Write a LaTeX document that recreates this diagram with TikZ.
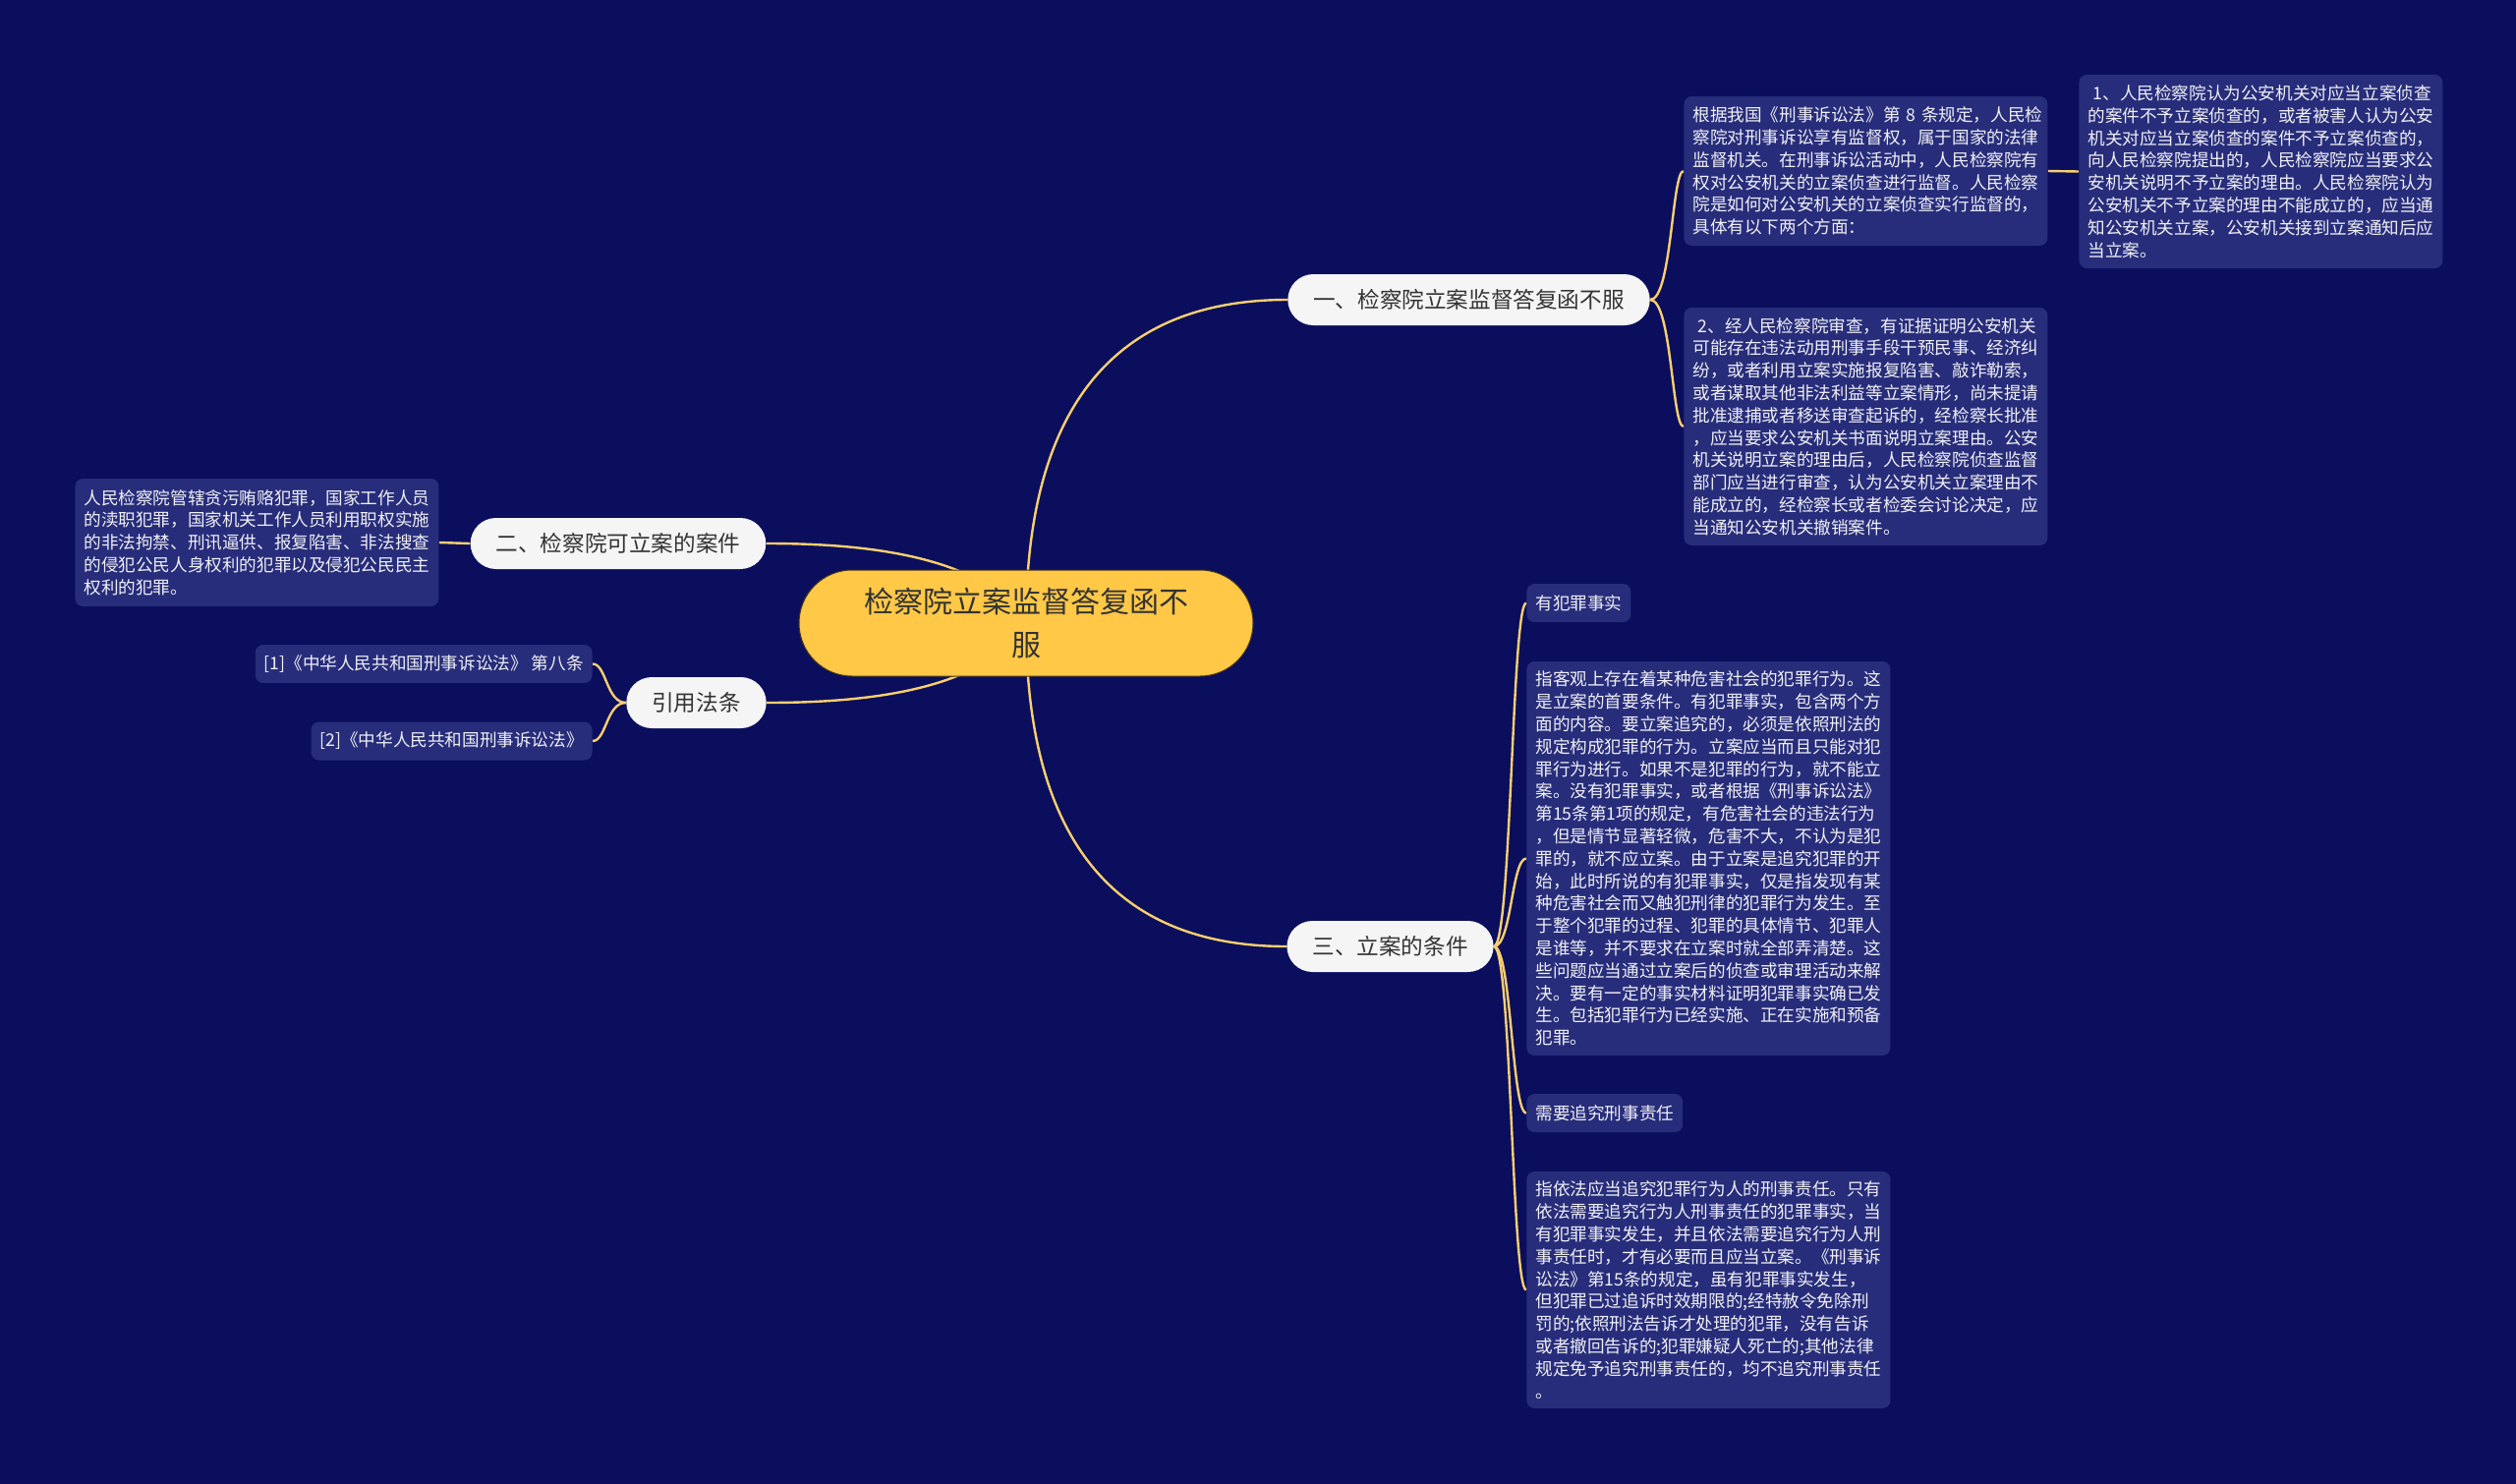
\documentclass[tikz,border=0pt]{standalone}
\usepackage{fontspec}
\setmainfont{Noto Sans CJK SC}
\usetikzlibrary{backgrounds}
\definecolor{bgcol}{RGB}{10,14,92}
\definecolor{leaffill}{RGB}{39,45,122}
\definecolor{leaftext}{RGB}{240,240,245}
\definecolor{mainfill}{RGB}{245,245,245}
\definecolor{maintext}{RGB}{51,51,51}
\definecolor{rootfill}{RGB}{255,200,71}
\definecolor{rootedge}{RGB}{70,55,25}
\definecolor{linecol}{RGB}{249,207,110}
\tikzset{
  leafbox/.style={fill=leaffill, text=leaftext, rounded corners=4pt, inner xsep=4.5pt, inner ysep=2pt,
    font=\fontsize{8.8pt}{11.4pt}\selectfont},
  longleaf/.style={leafbox, text width=176pt, align=left},
  mainbox/.style={fill=mainfill, text=maintext, rounded corners=13pt, minimum height=26pt,
    inner xsep=13pt, inner ysep=0pt, font=\fontsize{11.3pt}{14pt}\selectfont},
  rootbox/.style={fill=rootfill, draw=rootedge, line width=0.5pt, text=maintext, rounded corners=27pt,
    minimum height=54pt, text width=166pt, inner xsep=32.5pt, align=center,
    font=\fontsize{15pt}{22pt}\selectfont},
  conn/.style={draw=linecol, line width=1.2pt}
}
\begin{document}
\begin{tikzpicture}[x=0.5pt,y=-0.5pt]
\useasboundingbox (0,0) rectangle (2560,1510);

% root and main branches
\node[rootbox] (root) at (1044,634) {检察院立案监督答复函不\\服};
\node[mainbox] (n1) at (1494.5,305) {一、检察院立案监督答复函不服};
\node[mainbox] (n2) at (629,553) {二、检察院可立案的案件};
\node[mainbox] (n4) at (708.5,715) {引用法条};
\node[mainbox] (n3) at (1414.5,963) {三、立案的条件};

% branch 1 leaves
\node[longleaf, anchor=west, minimum height=76pt] (la) at (1713,174) {\mbox{根据我国《刑事诉讼法》第 8 条规定，人民检}\\
察院对刑事诉讼享有监督权，属于国家的法律\\
监督机关。在刑事诉讼活动中，人民检察院有\\
权对公安机关的立案侦查进行监督。人民检察\\
院是如何对公安机关的立案侦查实行监督的，\\
具体有以下两个方面：};
\node[longleaf, anchor=west, minimum height=121pt] (lb) at (1713,434) {\hspace*{0.3em}2、经人民检察院审查，有证据证明公安机关\\
可能存在违法动用刑事手段干预民事、经济纠\\
纷，或者利用立案实施报复陷害、敲诈勒索，\\
或者谋取其他非法利益等立案情形，尚未提请\\
批准逮捕或者移送审查起诉的，经检察长批准\\
，应当要求公安机关书面说明立案理由。公安\\
机关说明立案的理由后，人民检察院侦查监督\\
部门应当进行审查，认为公安机关立案理由不\\
能成立的，经检察长或者检委会讨论决定，应\\
当通知公安机关撤销案件。};
\node[longleaf, anchor=west, minimum height=98.5pt] (lc) at (2115,174.5) {\hspace*{0.3em}1、人民检察院认为公安机关对应当立案侦查\\
的案件不予立案侦查的，或者被害人认为公安\\
机关对应当立案侦查的案件不予立案侦查的，\\
向人民检察院提出的，人民检察院应当要求公\\
安机关说明不予立案的理由。人民检察院认为\\
公安机关不予立案的理由不能成立的，应当通\\
知公安机关立案，公安机关接到立案通知后应\\
当立案。};

% branch 2 leaf
\node[longleaf, anchor=west, minimum height=65pt] (ld) at (76,552) {人民检察院管辖贪污贿赂犯罪，国家工作人员\\
的渎职犯罪，国家机关工作人员利用职权实施\\
的非法拘禁、刑讯逼供、报复陷害、非法搜查\\
的侵犯公民人身权利的犯罪以及侵犯公民民主\\
权利的犯罪。};

% citations
\node[leafbox, anchor=east, minimum height=19.5pt] (le) at (603,675.5) {[1]《中华人民共和国刑事诉讼法》 第八条};
\node[leafbox, anchor=east, minimum height=19.5pt] (lf) at (603,754) {[2]《中华人民共和国刑事诉讼法》};

% branch 3 leaves
\node[leafbox, anchor=west, minimum height=19.5pt] (lg) at (1553,613.5) {有犯罪事实};
\node[longleaf, anchor=west, minimum height=200.5pt] (lh) at (1553,873.5) {指客观上存在着某种危害社会的犯罪行为。这\\
是立案的首要条件。有犯罪事实，包含两个方\\
面的内容。要立案追究的，必须是依照刑法的\\
规定构成犯罪的行为。立案应当而且只能对犯\\
罪行为进行。如果不是犯罪的行为，就不能立\\
案。没有犯罪事实，或者根据《刑事诉讼法》\\
第15条第1项的规定，有危害社会的违法行为\\
，但是情节显著轻微，危害不大，不认为是犯\\
罪的，就不应立案。由于立案是追究犯罪的开\\
始，此时所说的有犯罪事实，仅是指发现有某\\
种危害社会而又触犯刑律的犯罪行为发生。至\\
于整个犯罪的过程、犯罪的具体情节、犯罪人\\
是谁等，并不要求在立案时就全部弄清楚。这\\
些问题应当通过立案后的侦查或审理活动来解\\
决。要有一定的事实材料证明犯罪事实确已发\\
生。包括犯罪行为已经实施、正在实施和预备\\
犯罪。};
\node[leafbox, anchor=west, minimum height=19.5pt] (li) at (1553,1132.5) {需要追究刑事责任};
\node[longleaf, anchor=west, minimum height=120.5pt] (lj) at (1553,1312.5) {指依法应当追究犯罪行为人的刑事责任。只有\\
依法需要追究行为人刑事责任的犯罪事实，当\\
有犯罪事实发生，并且依法需要追究行为人刑\\
事责任时，才有必要而且应当立案。《刑事诉\\
讼法》第15条的规定，虽有犯罪事实发生，\\
但犯罪已过追诉时效期限的;经特赦令免除刑\\
罚的;依照刑法告诉才处理的犯罪，没有告诉\\
或者撤回告诉的;犯罪嫌疑人死亡的;其他法律\\
规定免予追究刑事责任的，均不追究刑事责任\\
。};

\begin{scope}[on background layer]
\fill[bgcol] (0,0) rectangle (2560,1510);
% root connectors
\draw[conn] (root.center) .. controls +(0,-214) and +(-180,0) .. (n1.west);
\draw[conn] (root.center) .. controls +(0,214) and +(-180,0) .. (n3.west);
\draw[conn] (root.center) .. controls +(-44,-74) and +(80,0) .. (n2.east);
\draw[conn] (root.center) .. controls +(-44,74) and +(80,0) .. (n4.east);
% branch 1
\draw[conn] (n1.east) .. controls +(22,0) and +(-12,0) .. (la.west);
\draw[conn] (n1.east) .. controls +(22,0) and +(-12,0) .. (lb.west);
\draw[conn] (la.east) -- (lc.west);
% branch 2
\draw[conn] (n2.west) -- (ld.east);
% citations
\draw[conn] (n4.west) .. controls +(-20,0) and +(14,0) .. (le.east);
\draw[conn] (n4.west) .. controls +(-20,0) and +(14,0) .. (lf.east);
% branch 3
\draw[conn] (n3.east) .. controls +(18,0) and +(-15,0) .. (lg.west);
\draw[conn] (n3.east) .. controls +(18,0) and +(-15,0) .. (lh.west);
\draw[conn] (n3.east) .. controls +(18,0) and +(-15,0) .. (li.west);
\draw[conn] (n3.east) .. controls +(18,0) and +(-15,0) .. (lj.west);
\end{scope}
\end{tikzpicture}
\end{document}
